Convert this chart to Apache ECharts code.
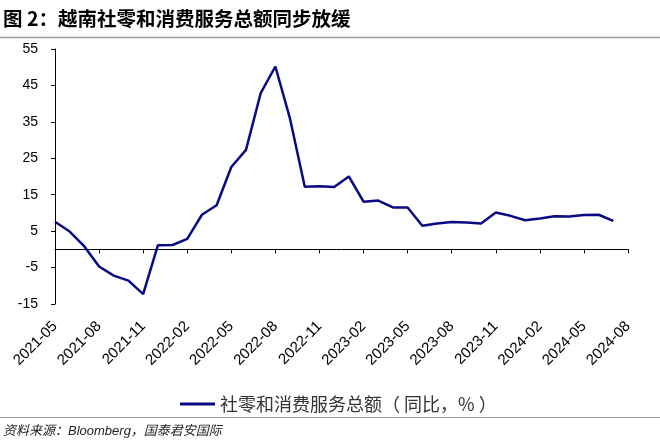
<!DOCTYPE html>
<html>
<head>
<meta charset="utf-8">
<script src="https://cdn.jsdelivr.net/npm/echarts@6/dist/echarts.min.js"></script>
<style>
html,body{margin:0;padding:0;background:#fff;}
#chart{width:660px;height:442px;}
</style>
</head>
<body>
<div id="chart"></div>
<script>
var categories = ['2021-05','2021-06','2021-07','2021-08','2021-09','2021-10','2021-11','2021-12',
  '2022-01','2022-02','2022-03','2022-04','2022-05','2022-06','2022-07','2022-08','2022-09','2022-10','2022-11','2022-12',
  '2023-01','2023-02','2023-03','2023-04','2023-05','2023-06','2023-07','2023-08','2023-09','2023-10','2023-11','2023-12',
  '2024-01','2024-02','2024-03','2024-04','2024-05','2024-06','2024-07','2024-08'];
var retailYoY = [7.6, 4.9, 0.8, -4.7, -7.2, -8.6, -12.3, 1.1,
  1.2, 2.9, 9.5, 12.1, 22.6, 27.3, 42.9, 50.2, 35.8, 17.2, 17.3, 17.1,
  20.0, 13.1, 13.4, 11.5, 11.5, 6.5, 7.1, 7.5, 7.4, 7.1, 10.1, 9.2,
  8.0, 8.5, 9.1, 9.0, 9.4, 9.5, 7.8, null];
var seriesName = '社零和消费服务总额（ 同比，% ）';
var titleText = '图 2：越南社零和消费服务总额同步放缓';
var sourceText = '资料来源：Bloomberg，国泰君安国际';

var chart = echarts.init(document.getElementById('chart'));
chart.setOption({
  animation: false,
  backgroundColor: '#fff',
  title: {
    text: titleText,
    left: 3, top: 9, padding: 0,
    textStyle: {fontFamily: '"Noto Sans CJK SC"', fontSize: 19.5, fontWeight: 'bold', color: '#000'}
  },
  graphic: [
    {type: 'line', shape: {x1: 0, y1: 37.5, x2: 660, y2: 37.5}, style: {stroke: '#999', lineWidth: 1.5}},
    {type: 'line', shape: {x1: 0, y1: 417.5, x2: 660, y2: 417.5}, style: {stroke: '#999', lineWidth: 1}},
    {type: 'text', left: 3, top: 425, style: {text: sourceText, font: 'italic 13px "Liberation Sans", "Noto Sans CJK SC"', fill: '#222'}}
  ],
  legend: {
    left: 180, top: 395, padding: 0,
    icon: 'rect', itemWidth: 35, itemHeight: 3, itemGap: 3,
    textStyle: {fontFamily: '"Noto Sans CJK SC"', fontSize: 18, color: '#333'},
    data: [seriesName]
  },
  grid: {left: 55, right: 32, top: 49, bottom: 138, containLabel: false},
  xAxis: [
    {
      type: 'category', data: categories, boundaryGap: false, position: 'bottom',
      axisLine: {show: false, onZero: false},
      axisTick: {show: false},
      axisLabel: {interval: 2, rotate: 45, margin: 20, fontFamily: '"Liberation Sans", Arial', fontSize: 15, color: '#000'}
    },
    {
      type: 'category', data: categories, boundaryGap: false, position: 'bottom',
      axisLine: {show: true, onZero: true, lineStyle: {color: '#000', width: 1}},
      axisTick: {show: true, interval: 2, length: 4, lineStyle: {color: '#000'}},
      axisLabel: {show: false}
    }
  ],
  yAxis: {
    type: 'value', min: -15, max: 55, interval: 10,
    axisLine: {show: true, lineStyle: {color: '#000', width: 1}},
    axisTick: {show: true, length: 4, lineStyle: {color: '#000'}},
    splitLine: {show: false},
    axisLabel: {margin: 17, fontFamily: '"Liberation Sans", Arial', fontSize: 14, color: '#000'}
  },
  series: [{
    name: seriesName, type: 'line', data: retailYoY, xAxisIndex: 1,
    showSymbol: false, symbol: 'none',
    lineStyle: {color: '#0a0a84', width: 2.5},
    itemStyle: {color: '#0a0a84'}
  }]
});
</script>
</body>
</html>
